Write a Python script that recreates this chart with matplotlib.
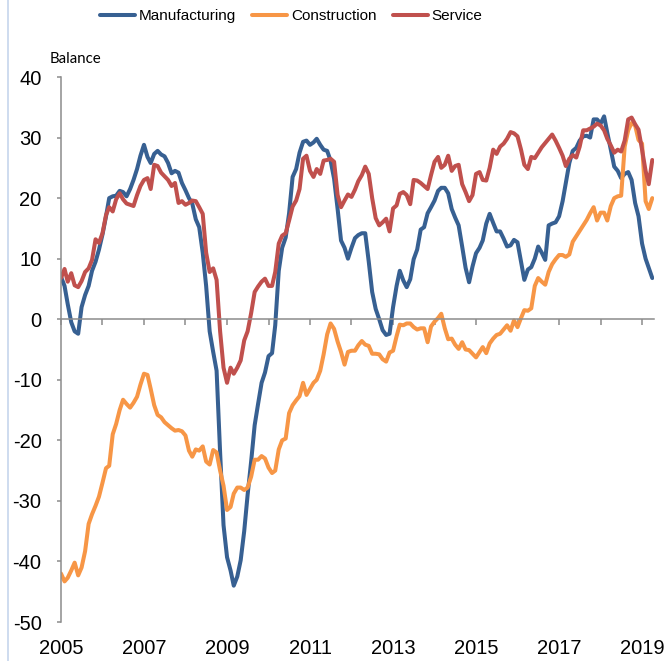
"""Business survey balances, 2005-2019 - line chart of three sectors."""

import matplotlib
matplotlib.use('Agg')
import matplotlib.pyplot as plt
import matplotlib.dates as mdates
import pandas as pd
from matplotlib.lines import Line2D

#########################################################################################
# Data (monthly, Jan 2005 - Apr 2019), balance of responses

months = pd.date_range('2005-01-01', periods=172, freq='MS')

manufacturing = [
    7, 5.5, 2.5, -0.5, -2, -2.4, 2, 4, 5.5, 8, 9.5, 11.5,
    14, 17, 20, 20.3, 20.4, 21.2, 21, 20.3, 21.5, 23, 24.8, 27,
    28.8, 26.8, 25.8, 27.3, 27.8, 27.2, 26.9, 25.8, 24.1, 24.5, 24.2, 22.5,
    21.3, 20, 19.1, 16.5, 15.2, 11, 5.5, -2, -5.4, -8.5, -22, -34,
    -39.3, -41.5, -44, -42.5, -39.8, -35, -29, -23.5, -17.5, -14, -10.5, -8.8,
    -6.1, -5.6, -1, 8, 11.8, 13.5, 17.5, 23.5, 24.8, 27.5, 29.3, 29.5,
    28.8, 29.2, 29.8, 28.8, 28, 27.8, 26.2, 23.2, 18.2, 13, 11.8, 10,
    11.8, 13.4, 13.9, 14.2, 14.2, 9.5, 4.5, 1.7, 0, -1.8, -2.6, -2.4,
    2, 5.5, 8, 6.4, 5.3, 6.6, 9.9, 11.5, 14.8, 15.2, 17.5, 18.5,
    19.6, 21.2, 21.7, 21.7, 20.8, 18.2, 16.8, 15.5, 12, 8.5, 6.1, 8.7,
    10.9, 11.8, 13, 15.8, 17.4, 15.9, 14.5, 14.5, 13.3, 12, 12.2, 13.1,
    12.7, 9.5, 6.5, 8.2, 8.6, 10, 12, 11, 9.8, 15.5, 15.8, 16,
    17, 19.5, 22.5, 25.8, 27.8, 28.3, 29.5, 30.2, 30.3, 30, 33, 33,
    32.3, 33.5, 30.8, 28, 25.2, 24.5, 23.3, 24, 24.3, 23, 19.2, 17,
    12.5, 10, 8.5, 6.8,
]

construction = [
    -42, -43.3, -42.7, -41.5, -40.2, -42.3, -41, -38.3, -33.8, -32.2, -30.8, -29.3,
    -27, -24.6, -24.2, -19, -17.3, -15, -13.3, -14, -14.6, -13.8, -12.8, -10.8,
    -9, -9.2, -11.5, -14.2, -15.8, -16.2, -17, -17.5, -18, -18.4, -18.3, -18.5,
    -19.2, -21.7, -22.7, -21.5, -21.7, -21, -23.5, -24, -21.6, -22, -25, -27.5,
    -31.5, -31, -28.8, -27.8, -27.8, -28.2, -27.8, -26, -23.2, -23.2, -22.6, -23,
    -24.5, -25.4, -25, -21.5, -20, -19.7, -15.5, -14.2, -13.4, -12.7, -10.5, -12.5,
    -11.5, -10.5, -10, -8.5, -5.8, -2.5, -0.7, -1.6, -3.7, -5.4, -7.5, -5.4,
    -5.2, -5.2, -4.3, -3.6, -4.2, -4.4, -5.7, -5.7, -5.8, -6.6, -7, -5.5,
    -5.2, -2.8, -0.9, -1, -0.7, -0.7, -1.3, -1.7, -1.5, -1.5, -3.8, -1.2,
    -0.4, 0.2, 0.9, -1.5, -3.3, -3.2, -4.2, -4.9, -3.8, -5, -5.1, -5.7,
    -6.3, -5.4, -4.6, -5.6, -4, -3.2, -2.6, -2.4, -1.7, -1, -1.9, -0.2,
    -1.3, 0.2, 1.5, 1.4, 1.8, 5.5, 6.8, 6.2, 5.7, 7.8, 9.1, 9.9,
    10.6, 10.6, 10.3, 10.7, 12.8, 13.7, 14.6, 15.5, 16.4, 17.5, 18.5, 16.3,
    17.6, 17.6, 16.3, 18.7, 20, 20.3, 20.4, 28.5, 31.2, 32.4, 32, 29.6,
    29, 19.5, 18.2, 20,
]

service = [
    6.8, 8.3, 6.2, 7.6, 5.6, 5.3, 6.3, 7.8, 8.4, 9.8, 13.2, 12.6,
    14.2, 17.2, 18.5, 17.8, 19.8, 20.8, 19.8, 19.1, 18.9, 18.7, 20.5, 22,
    23, 23.3, 21.5, 25.5, 25.3, 24.2, 23.6, 23, 22, 22.5, 19.2, 19.5,
    18.9, 19.2, 19.6, 19.5, 18.5, 17.4, 11, 7.8, 8.4, 6.5, -2, -8,
    -10.5, -8, -9, -8, -6.8, -3.5, -2, 1, 4.5, 5.4, 6.2, 6.7,
    5.5, 5.5, 7.8, 12.5, 13.8, 14.2, 16.3, 18.6, 19.6, 21.5, 26.5, 27,
    24.5, 23.5, 24.8, 24, 26.2, 26.3, 26.5, 26, 20.5, 18.5, 19.6, 20.6,
    20.2, 21.4, 22.8, 23.8, 25.2, 24, 20, 16.7, 15.5, 16, 16.6, 14.5,
    18.3, 18.8, 20.7, 21, 20.5, 19, 23, 22.9, 22.5, 22, 21.5, 23.8,
    26, 26.8, 25, 25.5, 27, 24.5, 25.3, 25.5, 22.3, 21, 19.5, 20.5,
    24, 24.3, 23, 22.9, 25, 28, 27.3, 28.5, 29, 29.8, 30.9, 30.7,
    30.2, 28, 25.5, 24.8, 26.8, 26.6, 27.5, 28.4, 29.1, 29.8, 30.5, 29.5,
    28.3, 27, 25.3, 26.5, 27.1, 26.7, 28.5, 31.2, 31.2, 31.5, 31.8, 32.3,
    32, 31.2, 29.8, 28.7, 27.5, 28, 27.7, 29.5, 33, 33.3, 32.2, 31.3,
    28, 24.5, 22.3, 26.3,
]

series_names = ['Manufacturing', 'Construction', 'Service']
label_years = [2005, 2007, 2009, 2011, 2013, 2015, 2017, 2019]

#########################################################################################

plt.rcParams['font.family'] = ['Liberation Sans', 'DejaVu Sans']
plt.rcParams['axes.unicode_minus'] = False

colors = ['#376092', '#F79646', '#C0504D']
axis_grey = '#8c8c8c'

fig = plt.figure(figsize=(6.72, 6.61), dpi=100)
ax = fig.add_axes([0.0908, 0.059, 0.8824, 0.8245])

# Plot the lines - service last so it sits on top
for vals, name, col in zip([manufacturing, construction, service], series_names, colors):
    ax.plot(months, vals, color=col, lw=2.9, label=name,
            solid_joinstyle='round', solid_capstyle='round')

# Limits
ax.set_ylim(-50, 40)
ax.set_xlim(pd.Timestamp('2005-01-01'), pd.Timestamp('2019-04-16'))

# Spines: left axis plus a horizontal axis at zero
ax.spines['right'].set_visible(False)
ax.spines['top'].set_visible(False)
ax.spines['bottom'].set_position(('data', 0))
for side in ['left', 'bottom']:
    ax.spines[side].set_color(axis_grey)
    ax.spines[side].set_linewidth(1.1)

ax.set_yticks(range(-50, 41, 10))
ax.tick_params(axis='y', direction='out', length=3, width=1.1, color=axis_grey,
               labelsize=14.5, pad=11)
ax.xaxis.set_major_locator(mdates.YearLocator(1))
ax.tick_params(axis='x', direction='out', length=4, width=1.1, color=axis_grey,
               labelbottom=False)

# Year labels sit at the bottom of the plot, not on the zero line
for yr in label_years:
    ax.text(pd.Timestamp(f'{yr}-01-01'), -0.048, str(yr), transform=ax.get_xaxis_transform(),
            ha='center', va='center', fontsize=14.5)

# Axis title
fig.text(50 / 672, 1 - 59 / 661, 'Balance', family=['Lato', 'DejaVu Sans'],
         fontsize=10.8, ha='left', va='center')

# Legend along the top
fig.legend(loc='upper left', bbox_to_anchor=(100 / 672, 1 - 9 / 661), ncol=3,
           frameon=False, prop={'family': ['Liberation Sans', 'DejaVu Sans'], 'size': 11},
           handlelength=2.3, handletextpad=0.25, columnspacing=1.05,
           borderpad=0, borderaxespad=0)

# Faint frame edge on the left
fig.add_artist(Line2D([8 / 672, 8 / 672], [0, 1], transform=fig.transFigure,
                      color='#c6d6ec', lw=1.2))

fig.savefig('out.png', dpi=100)
